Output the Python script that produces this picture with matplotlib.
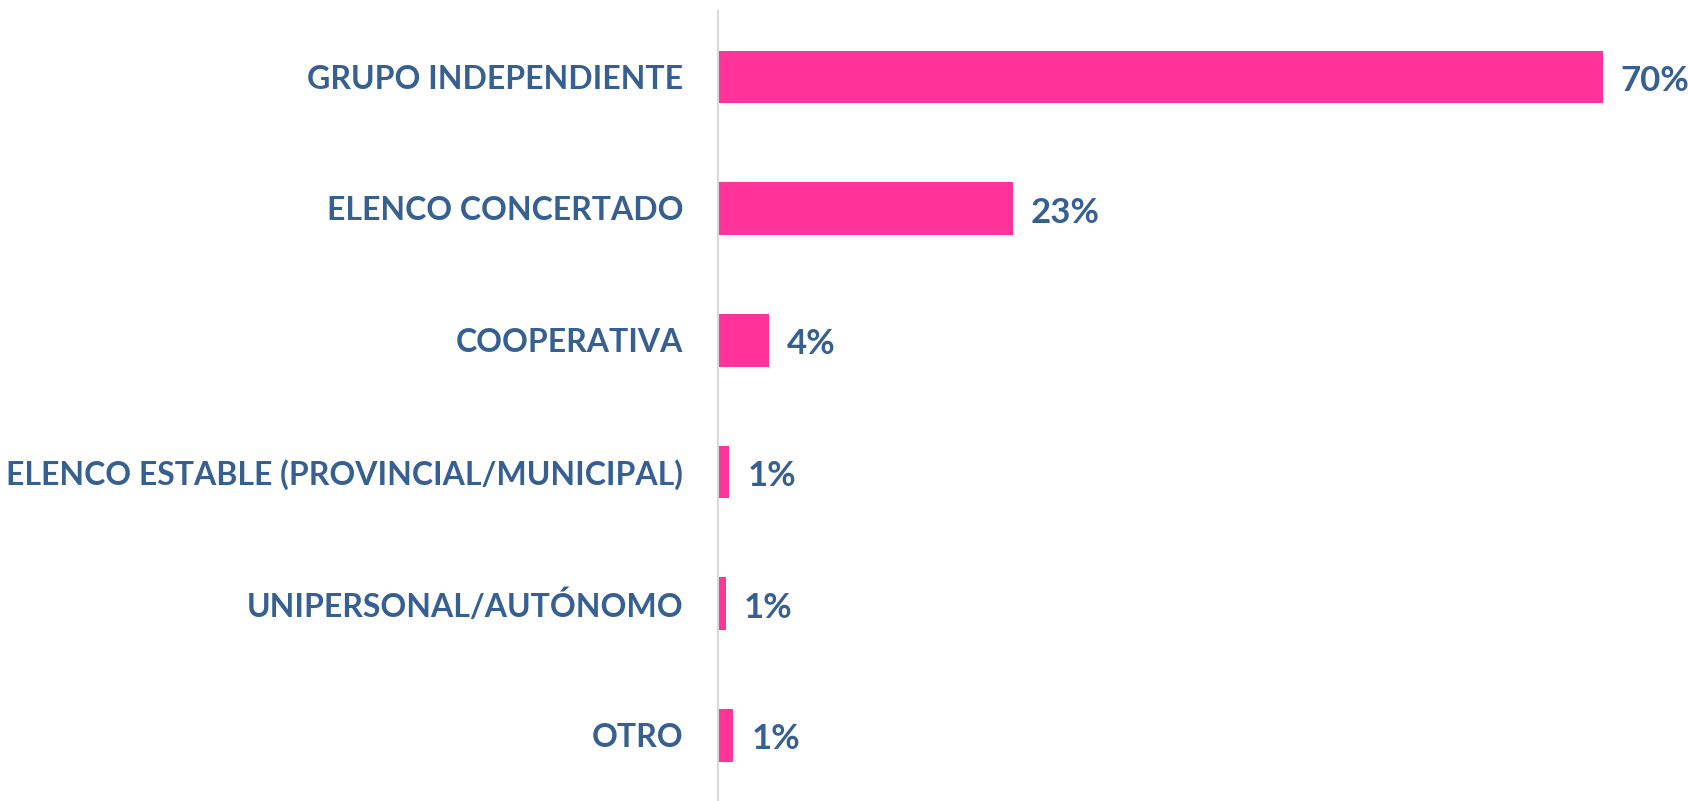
import matplotlib
matplotlib.use("Agg")
import matplotlib.pyplot as plt

categorias = ["GRUPO INDEPENDIENTE", "ELENCO CONCERTADO", "COOPERATIVA",
              "ELENCO ESTABLE (PROVINCIAL/MUNICIPAL)", "UNIPERSONAL/AUTÓNOMO", "OTRO"]
valores = [70.0, 23.3, 4.0, 0.9, 0.6, 1.2]
etiquetas = ["70%", "23%", "4%", "1%", "1%", "1%"]

rosa = "#FF3399"
azul = "#376092"

plt.rcParams["font.family"] = ["Lato", "DejaVu Sans"]

fig = plt.figure(figsize=(16.88, 8.01), dpi=100)
ax = fig.add_axes([718 / 1688, 0.0, 1 - 718 / 1688, 790 / 801])

y = list(range(len(categorias)))
ax.barh(y, valores, height=0.4, color=rosa)
ax.set_ylim(len(categorias) - 0.5, -0.5)
ax.set_xlim(0, 970 / 12.64)

# etiquetas de valor al final de cada barra
for yi, v, t in zip(y, valores, etiquetas):
    ax.annotate(t, (v, yi), xytext=(13, -3), textcoords="offset points",
                va="center", ha="left", fontsize=25, fontweight="bold", color=azul)

ax.set_yticks(y)
ax.set_yticklabels(categorias, fontsize=23, fontweight="bold", color=azul)
ax.tick_params(axis="y", length=0, pad=25)
ax.set_xticks([])

for s in ["top", "right", "bottom"]:
    ax.spines[s].set_visible(False)
ax.spines["left"].set_color("#D9D9D9")
ax.spines["left"].set_linewidth(1.5)

fig.savefig("out.png", dpi=100)
